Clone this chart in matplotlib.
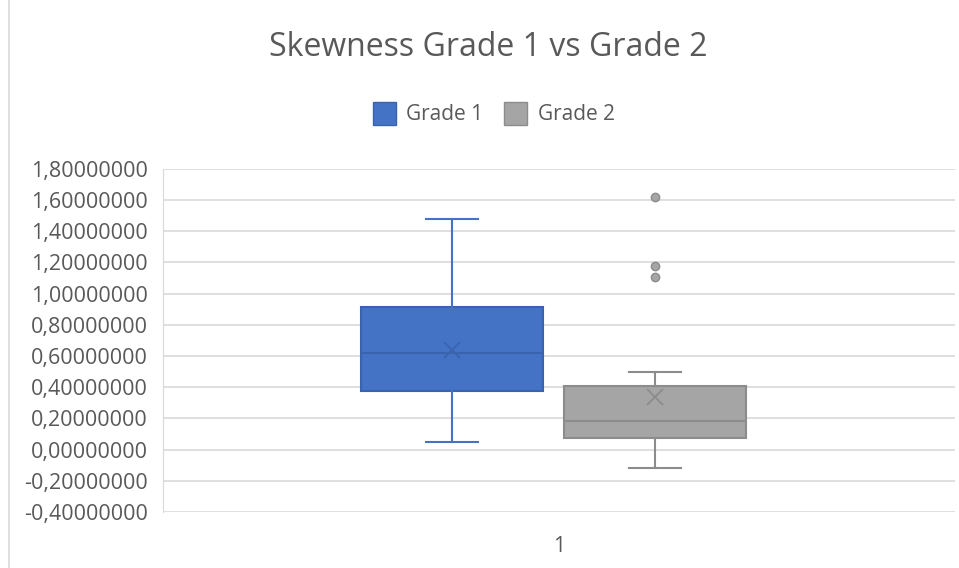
import matplotlib.pyplot as plt
from matplotlib.patches import Patch
from matplotlib.ticker import FuncFormatter

# skewness summary per grade
groups   = ["Grade 1", "Grade 2"]
whislo   = [0.051, -0.116]
q1       = [0.373, 0.077]
medians  = [0.617, 0.186]
q3       = [0.913, 0.411]
whishi   = [1.478, 0.500]
means    = [0.636, 0.340]
outliers = [[], [1.620, 1.176, 1.105]]

fills = ["#4472C4", "#A5A5A5"]
edges = ["#3A63AE", "#8C8C8C"]
text_col = "#595959"

plt.rcParams["font.family"] = ["Open Sans", "DejaVu Sans"]

fig = plt.figure(figsize=(9.59, 5.68), dpi=100)
ax = fig.add_axes([0.170, 0.0986, 0.826, 0.604])

stats = []
for i, g in enumerate(groups):
    stats.append(dict(label=g, whislo=whislo[i], q1=q1[i], med=medians[i],
                      q3=q3[i], whishi=whishi[i], mean=means[i], fliers=outliers[i]))

pos = [0.365, 0.621]
for i, st in enumerate(stats):
    ax.bxp([st], positions=[pos[i]], widths=0.23, capwidths=0.066,
           showmeans=True, patch_artist=True, manage_ticks=False,
           boxprops=dict(facecolor=fills[i], edgecolor=edges[i], linewidth=1.5),
           medianprops=dict(color=edges[i], linewidth=1.5),
           whiskerprops=dict(color=edges[i] if i else fills[i], linewidth=1.5),
           capprops=dict(color=edges[i] if i else fills[i], linewidth=1.5),
           meanprops=dict(marker="x", markersize=12, markeredgecolor=edges[i],
                          markeredgewidth=1.3),
           flierprops=dict(marker="o", markersize=6, markerfacecolor=fills[i],
                           markeredgecolor=edges[i]))

ax.set_xlim(0, 1)
ax.set_ylim(-0.4, 1.8)
ax.set_yticks([-0.4 + 0.2 * k for k in range(12)])
ax.yaxis.set_major_formatter(FuncFormatter(lambda v, p: f"{v:.8f}".replace(".", ",")))
ax.set_xticks([0.5])
ax.set_xticklabels(["1"])
ax.tick_params(axis="y", length=0, labelsize=15.5, labelcolor=text_col, pad=11)
ax.tick_params(axis="x", length=0, labelsize=15, labelcolor=text_col, pad=17)
ax.grid(axis="y", color="#D9D9D9", linewidth=1.2)
ax.set_axisbelow(True)
for s in ["top", "right", "bottom"]:
    ax.spines[s].set_visible(False)
ax.spines["left"].set_color("#D9D9D9")

fig.text(0.509, 0.916, "Skewness Grade 1 vs Grade 2", ha="center", va="center",
         fontsize=23, color=text_col)

handles = [Patch(facecolor=fills[i], edgecolor=edges[i], label=g) for i, g in enumerate(groups)]
fig.legend(handles=handles, loc="center", bbox_to_anchor=(0.515, 0.800), ncol=2,
           frameon=False, fontsize=15, labelcolor=text_col, handlelength=1.1,
           handleheight=1.3, columnspacing=1.0, handletextpad=0.5)

# chart frame edge on the left
fig.add_artist(plt.Line2D([0.009, 0.009], [0, 1], color="#D9D9D9", linewidth=1.2))

fig.savefig("out.png", dpi=100)
